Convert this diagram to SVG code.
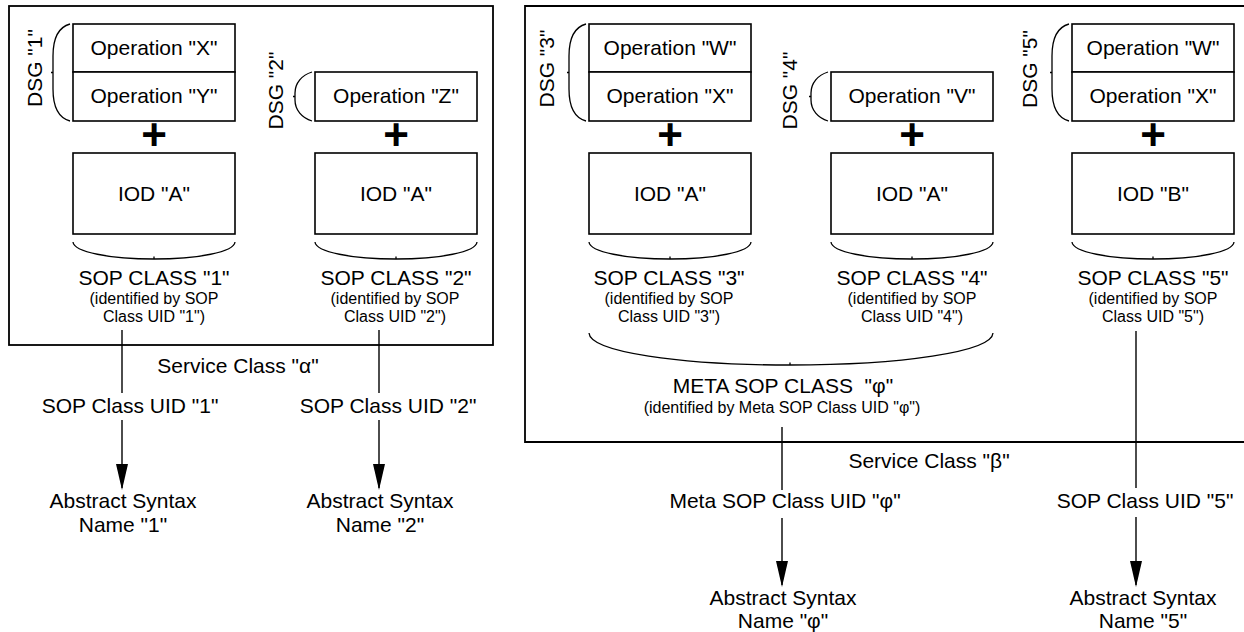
<svg xmlns="http://www.w3.org/2000/svg" width="1244" height="632" viewBox="0 0 1244 632">
<style>
.box{fill:#fff;stroke:#000;stroke-width:1.6}
.frame{fill:none;stroke:#000;stroke-width:1.8}
.br{fill:none;stroke:#000;stroke-width:1.3}
.ln{fill:none;stroke:#000;stroke-width:1.4}
text{font-family:"Liberation Sans",Arial,sans-serif;fill:#000;text-anchor:middle}
.t{font-size:21px}
.s{font-size:16px}
.plus{font-size:44px;font-weight:bold}
</style>
<defs>
<marker id="ah" markerUnits="userSpaceOnUse" markerWidth="26" markerHeight="12" viewBox="0 0 26 12" refX="24" refY="6" orient="auto">
<path d="M0,0 L26,6 L0,12 z" fill="#000"/>
</marker>
</defs>

<g id="service-class-alpha">
<rect class="frame" x="9" y="6" width="484" height="339"/>
<text class="t" x="238" y="373">Service Class "α"</text>
</g>
<g id="service-class-beta">
<path class="frame" d="M1245,6 H525 V442 H1245"/>
<text class="t" x="929" y="468">Service Class "β"</text>
</g>

<g id="dsg1">
<path class="br" d="M70,24 C59,27 53,37 53,56 L53,89 C53,108 59,118 70,121 M53,72.5 h-2"/>
<text class="t" transform="translate(42,68) rotate(-90)">DSG "1"</text>
</g>
<g id="op-x-1"><rect class="box" x="73" y="24" width="162" height="48"/><text class="t" x="154" y="55">Operation "X"</text></g>
<g id="op-y-1"><rect class="box" x="73" y="72" width="162" height="49"/><text class="t" x="154" y="103">Operation "Y"</text></g>
<g id="plus-1"><text class="plus" x="154" y="150">+</text></g>
<g id="iod-a-1"><rect class="box" x="73" y="153" width="162" height="81"/><text class="t" x="154" y="201">IOD "A"</text></g>
<g id="sop-class-1">
<path class="br" d="M73,242 C74,252 110,259 154,259 C198,259 234,252 235,242 M154,259 v-2.5"/>
<text class="t" x="154" y="285">SOP CLASS "1"</text>
<text class="s" x="154" y="304">(identified by SOP</text>
<text class="s" x="154" y="322">Class UID "1")</text>
</g>

<g id="dsg2">
<path class="br" d="M312,72 C302,75 295,83 295,93 L295,100 C295,110 302,118 312,121 M295,96.5 h-2"/>
<text class="t" transform="translate(283,90.5) rotate(-90)">DSG "2"</text>
</g>
<g id="op-z-2"><rect class="box" x="315" y="72" width="162" height="49"/><text class="t" x="396" y="103">Operation "Z"</text></g>
<g id="plus-2"><text class="plus" x="396" y="150">+</text></g>
<g id="iod-a-2"><rect class="box" x="315" y="153" width="162" height="81"/><text class="t" x="396" y="201">IOD "A"</text></g>
<g id="sop-class-2">
<path class="br" d="M315,242 C316,252 352,259 396,259 C440,259 476,252 477,242 M396,259 v-2.5"/>
<text class="t" x="396" y="285">SOP CLASS "2"</text>
<text class="s" x="395" y="304">(identified by SOP</text>
<text class="s" x="395" y="322">Class UID "2")</text>
</g>

<g id="dsg3">
<path class="br" d="M586,24 C575,27 569,37 569,56 L569,89 C569,108 575,118 586,121 M569,72.5 h-2"/>
<text class="t" transform="translate(554,68.5) rotate(-90)">DSG "3"</text>
</g>
<g id="op-w-3"><rect class="box" x="589" y="24" width="162" height="48"/><text class="t" x="670" y="55">Operation "W"</text></g>
<g id="op-x-3"><rect class="box" x="589" y="72" width="162" height="49"/><text class="t" x="670" y="103">Operation "X"</text></g>
<g id="plus-3"><text class="plus" x="670" y="150">+</text></g>
<g id="iod-a-3"><rect class="box" x="589" y="153" width="162" height="81"/><text class="t" x="670" y="201">IOD "A"</text></g>
<g id="sop-class-3">
<path class="br" d="M589,242 C590,252 626,259 670,259 C714,259 750,252 751,242 M670,259 v-2.5"/>
<text class="t" x="669" y="285">SOP CLASS "3"</text>
<text class="s" x="669" y="304">(identified by SOP</text>
<text class="s" x="669" y="322">Class UID "3")</text>
</g>

<g id="dsg4">
<path class="br" d="M828,72 C818,75 811,83 811,93 L811,100 C811,110 818,118 828,121 M811,96.5 h-2"/>
<text class="t" transform="translate(797,90.5) rotate(-90)">DSG "4"</text>
</g>
<g id="op-v-4"><rect class="box" x="831" y="72" width="162" height="49"/><text class="t" x="912" y="103">Operation "V"</text></g>
<g id="plus-4"><text class="plus" x="912" y="150">+</text></g>
<g id="iod-a-4"><rect class="box" x="831" y="153" width="162" height="81"/><text class="t" x="912" y="201">IOD "A"</text></g>
<g id="sop-class-4">
<path class="br" d="M831,242 C832,252 868,259 912,259 C956,259 992,252 993,242 M912,259 v-2.5"/>
<text class="t" x="912" y="285">SOP CLASS "4"</text>
<text class="s" x="912" y="304">(identified by SOP</text>
<text class="s" x="912" y="322">Class UID "4")</text>
</g>

<g id="dsg5">
<path class="br" d="M1069,24 C1058,27 1052,37 1052,56 L1052,89 C1052,108 1058,118 1069,121 M1052,72.5 h-2"/>
<text class="t" transform="translate(1037,69) rotate(-90)">DSG "5"</text>
</g>
<g id="op-w-5"><rect class="box" x="1072" y="24" width="162" height="48"/><text class="t" x="1153" y="55">Operation "W"</text></g>
<g id="op-x-5"><rect class="box" x="1072" y="72" width="162" height="49"/><text class="t" x="1153" y="103">Operation "X"</text></g>
<g id="plus-5"><text class="plus" x="1153" y="150">+</text></g>
<g id="iod-b-5"><rect class="box" x="1072" y="153" width="162" height="81"/><text class="t" x="1153" y="201">IOD "B"</text></g>
<g id="sop-class-5">
<path class="br" d="M1072,242 C1073,252 1109,259 1153,259 C1197,259 1233,252 1234,242 M1153,259 v-2.5"/>
<text class="t" x="1153" y="285">SOP CLASS "5"</text>
<text class="s" x="1153" y="304">(identified by SOP</text>
<text class="s" x="1153" y="322">Class UID "5")</text>
</g>

<g id="meta-sop-class">
<path class="br" d="M589,333 C590,352 680,365 790,365 C900,365 992,352 993,333 M790,365 v-2.5"/>
<text class="t" x="783" y="393">META SOP CLASS &#160;"φ"</text>
<text class="s" x="782" y="413">(identified by Meta SOP Class UID "φ")</text>
</g>

<g id="asn-1"><text class="t" x="123" y="508">Abstract Syntax</text><text class="t" x="123" y="532">Name "1"</text></g>
<g id="asn-2"><text class="t" x="380" y="508">Abstract Syntax</text><text class="t" x="380" y="532">Name "2"</text></g>
<g id="asn-phi"><text class="t" x="783" y="605">Abstract Syntax</text><text class="t" x="783" y="628">Name "φ"</text></g>
<g id="asn-5"><text class="t" x="1143" y="605">Abstract Syntax</text><text class="t" x="1143" y="628">Name "5"</text></g>

<g id="connectors">
<path class="ln" d="M122,330 V393"/>
<path class="ln" d="M122,420 V488" marker-end="url(#ah)"/>
<text class="t" x="130" y="413">SOP Class UID "1"</text>
<path class="ln" d="M379,330 V393"/>
<path class="ln" d="M379,420 V488" marker-end="url(#ah)"/>
<text class="t" x="388" y="413">SOP Class UID "2"</text>
<path class="ln" d="M782,427 V490"/>
<path class="ln" d="M782,518 V585" marker-end="url(#ah)"/>
<text class="t" x="785" y="508">Meta SOP Class UID "φ"</text>
<path class="ln" d="M1136,331 V488"/>
<path class="ln" d="M1136,517 V585" marker-end="url(#ah)"/>
<text class="t" x="1145" y="508">SOP Class UID "5"</text>
</g>
</svg>
